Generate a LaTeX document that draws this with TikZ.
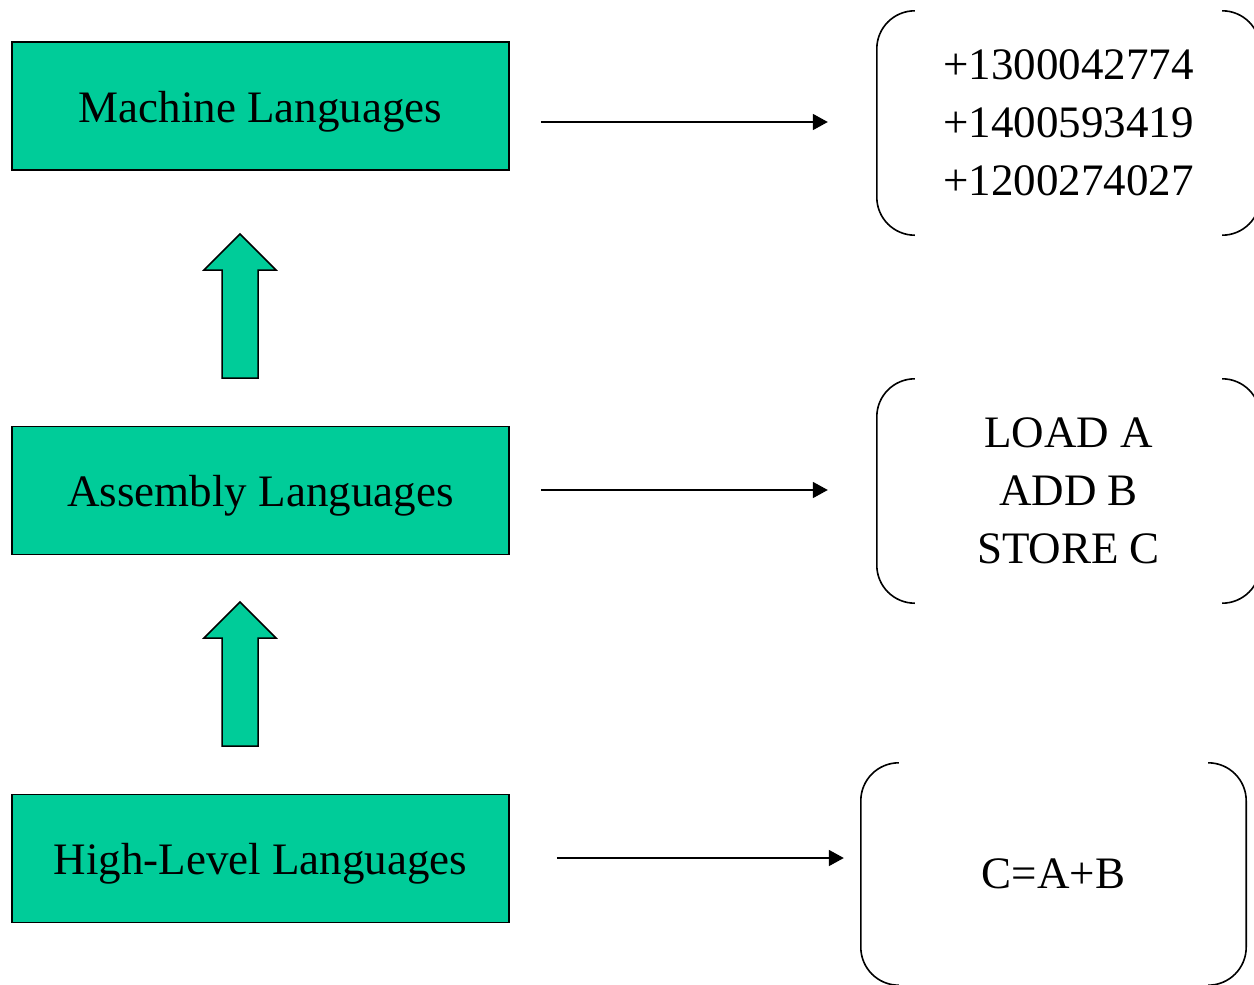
\documentclass[tikz,border=0pt]{standalone}
\usepackage{fontspec}
\setmainfont{Liberation Serif}
\usetikzlibrary{arrows.meta,calc}
\definecolor{boxgreen}{RGB}{0,204,153}
\begin{document}
\begin{tikzpicture}[x=1pt,y=-1pt,
  lang/.style={draw=black,line width=1.5pt,fill=boxgreen,minimum width=497pt,minimum height=128pt,inner sep=0pt,text height=32pt,text depth=0pt,font=\fontsize{45}{58}\selectfont},
  code/.style={inner sep=0pt,align=center,font=\fontsize{45}{58}\selectfont},
  brk/.style={line width=1.6pt,rounded corners=38pt},
  conn/.style={line width=1.8pt,-{Triangle[length=15pt,width=16pt]}},
  blockarrow/.style={draw=black,line width=1.5pt,fill=boxgreen,line join=miter}]
\useasboundingbox (0,0) rectangle (1254,985);

% left boxes
\node[lang] (m) at (260.5,106) {Machine Languages};
\node[lang] (a) at (260.5,490.5) {Assembly Languages};
\node[lang] (h) at (260.5,858.5) {High-Level Languages};

% code boxes
\node[code,minimum width=383pt,minimum height=224pt] (mc) at (1068.5,123) {+1300042774\\+1400593419\\+1200274027};
\node[code,minimum width=383pt,minimum height=224pt] (ac) at (1068.5,491) {LOAD A\\ADD B\\STORE C};
\node[code,minimum width=385pt,minimum height=222pt] (hc) at (1053.5,874) {C=A+B};

% brackets
\foreach \n in {mc,ac,hc}{
  \draw[brk] ([xshift=38pt]\n.north west) -- (\n.north west) -- (\n.south west) -- ([xshift=38pt]\n.south west);
  \draw[brk] ([xshift=-38pt]\n.north east) -- (\n.north east) -- (\n.south east) -- ([xshift=-38pt]\n.south east);
}

% connectors
\draw[conn,shorten <=31pt,shorten >=49pt] ([yshift=1pt]m.east |- mc.west) -- ([yshift=1pt]mc.west);
\draw[conn,shorten <=31pt,shorten >=49pt] ([yshift=1pt]a.east |- ac.west) -- ([yshift=1pt]ac.west);
\draw[conn,shorten <=47pt,shorten >=17pt] ([yshift=16pt]h.east |- hc.west) -- ([yshift=16pt]hc.west);

% block arrows
\coordinate (t1) at (240,234);
\coordinate (t2) at (240,602);
\foreach \t in {t1,t2}{
  \draw[blockarrow] (\t) -- ++(36,36) -- ++(-18,0) -- ++(0,108) -- ++(-36,0) -- ++(0,-108) -- ++(-18,0) -- cycle;
}
\end{tikzpicture}
\end{document}
